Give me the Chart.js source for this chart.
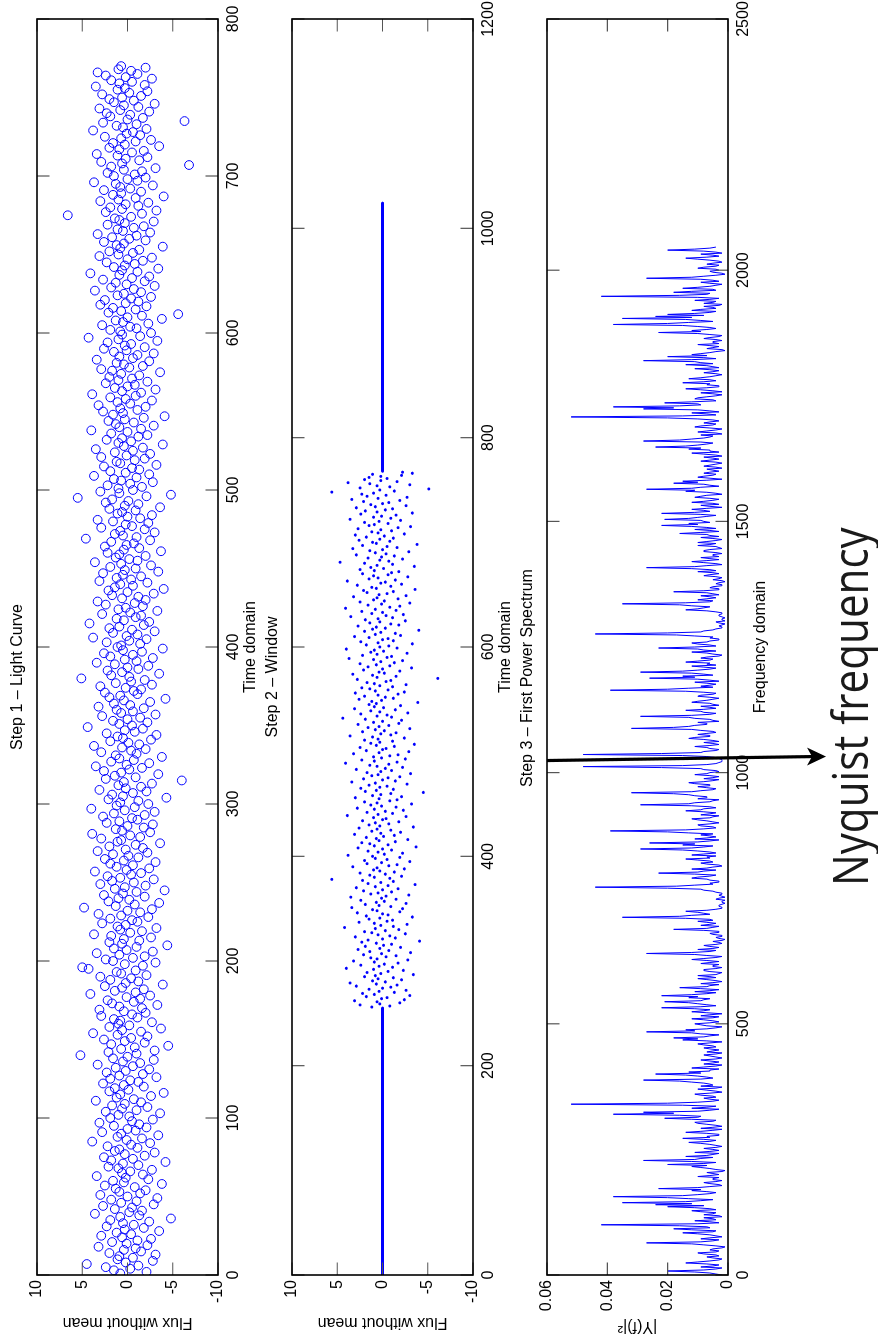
<!DOCTYPE html>
<html>
<head>
<meta charset="utf-8">
<script src="https://cdn.jsdelivr.net/npm/chart.js@4.4.1/dist/chart.umd.min.js"></script>
<style>
html,body{margin:0;padding:0;background:#fff;overflow:hidden;}
body{width:878px;height:1341px;position:relative;}
/* figure is laid out as the original landscape plot, then turned a quarter left */
#fig{position:absolute;left:0;top:0;width:1341px;height:878px;transform-origin:0 0;transform:translate(0,1341px) rotate(-90deg);}
#fig canvas{position:absolute;left:0;top:0;}
</style>
</head>
<body>
<div id="fig">
<canvas id="c1" width="1341" height="878"></canvas>
<canvas id="c2" width="1341" height="878"></canvas>
<canvas id="c3" width="1341" height="878"></canvas>
</div>
<script>
// step 1 - light curve, one value per time unit starting at t=1
var lightFlux = [
0.8,-2.1,1.5,-0.3,2.4,-1.2,4.5,0.2,-2.8,1.1,
-0.6,0.9,-3.1,2.0,-1.5,0.4,-0.9,3.2,-2.2,0.1,
1.7,-1.1,-2.6,0.6,2.9,-0.4,1.2,-3.5,0.3,-1.8,
2.3,-0.7,0.5,-2.4,1.9,-4.8,0.8,-1.3,3.6,-0.2,
-1.6,1.4,-0.5,2.7,-2.9,0.7,-1.0,1.8,-3.3,0.0,
3.0,-1.4,0.9,-2.0,1.3,-0.8,2.5,-3.8,0.4,1.6,
-2.3,0.2,3.4,-1.7,0.6,-0.3,-2.7,1.0,2.1,-1.2,
0.5,-4.2,1.8,-0.6,2.6,-1.9,0.3,-3.0,1.4,0.9,
-1.1,2.2,-0.4,-2.5,3.9,0.1,-1.6,1.1,-3.4,0.7,
2.8,-0.9,0.0,-2.1,1.5,-1.3,3.1,-0.5,-2.8,1.9,
-0.2,1.0,-3.6,2.4,-1.0,0.6,-2.2,1.7,0.3,-1.5,
3.5,-0.7,1.2,-2.6,0.8,-4.0,2.0,-0.1,1.4,-1.8,
0.4,2.7,-1.2,-0.3,1.9,-3.2,0.9,-1.7,2.3,0.2,
-2.4,1.3,-0.6,3.3,-1.4,0.5,-2.9,1.6,0.0,5.2,
-1.0,2.1,-3.0,0.7,-0.8,-4.5,1.8,-1.9,0.3,2.6,
-0.4,-2.2,1.1,3.8,-1.5,0.6,-3.7,2.0,-0.2,1.0,
-2.7,0.8,1.5,-1.1,2.9,-0.5,-2.0,0.4,3.1,-1.6,
0.9,-3.3,1.7,-0.7,2.2,-1.4,0.1,-2.5,4.1,-0.9,
1.4,-1.8,0.6,2.5,-3.9,0.2,-1.2,1.9,-0.4,3.0,
-2.1,0.7,1.2,-0.9,4.3,5.0,-1.7,0.3,-3.1,1.6,
2.4,-0.6,-1.9,0.9,3.4,-2.8,0.1,1.5,-1.0,-4.4,
0.6,2.0,-1.3,0.4,-2.6,1.8,3.7,-0.3,-1.6,0.8,
-3.2,1.1,0.2,2.8,-1.1,-0.5,1.9,-2.3,0.7,3.2,
-1.4,0.0,-2.7,4.8,1.3,-0.8,-3.5,2.1,-0.2,1.0,
-1.9,2.6,0.5,-1.0,-4.1,1.4,0.3,-2.0,3.0,-0.7,
1.7,-2.9,0.8,2.2,-0.4,-1.5,3.6,0.1,-2.4,1.2,
-0.6,1.9,-3.1,0.4,2.5,-1.2,-0.1,1.6,-2.2,3.3,
0.2,-1.7,2.0,-0.9,-3.6,1.1,0.7,2.9,-1.4,-0.3,
3.9,-2.5,0.6,1.3,-1.8,0.0,-2.8,2.3,0.9,-1.1,
-0.5,2.7,-1.9,1.5,-3.0,0.3,4.0,-0.8,1.2,-2.3,
0.8,-1.2,2.1,-4.3,0.5,1.7,-0.6,-2.1,3.1,0.2,
-1.5,1.0,-2.7,0.4,-6.0,2.4,-0.9,1.4,-3.4,0.7,
2.6,-0.2,-1.6,3.5,0.1,-2.4,1.8,-0.7,0.9,-3.8,
1.3,-1.0,2.9,-0.4,-2.0,0.6,3.7,-1.3,-0.1,1.9,
-2.6,0.5,1.1,-3.2,2.3,-0.8,0.3,-1.7,4.4,-0.5,
0.9,-2.2,1.6,0.0,-1.4,2.8,-3.1,0.7,-0.6,1.2,
-1.8,3.2,-0.3,1.5,-2.5,0.4,-4.2,2.0,0.8,-1.1,
2.5,-0.7,-1.5,0.2,3.0,-2.7,1.3,-0.4,-1.9,5.1,
-0.2,1.8,-3.5,0.6,2.2,-1.2,0.0,-2.3,1.4,3.4,
-1.0,0.3,-2.8,1.9,-0.6,2.6,-1.6,0.5,-3.9,1.1,
0.7,-1.4,2.3,-0.2,-2.1,3.8,0.1,-1.1,1.6,-3.0,
-0.5,2.0,0.9,-1.8,4.2,-2.4,0.4,1.2,-0.9,-1.5,
2.8,-0.3,-3.3,1.0,0.2,-1.7,2.4,-0.8,3.3,-2.0,
0.6,-1.2,1.7,-2.9,0.0,2.1,-4.0,1.4,-0.6,0.8,
-2.2,3.1,-0.4,1.2,-1.5,0.5,2.7,-3.4,0.3,-0.9,
1.9,-2.6,0.7,3.6,-1.1,-0.2,1.3,-2.0,0.9,2.2,
-3.7,0.4,-1.3,2.5,0.1,-0.7,1.8,-2.5,4.6,-1.0,
0.5,1.4,-3.0,0.8,-1.9,2.9,-0.5,0.2,-2.3,1.6,
3.3,-1.4,0.0,-2.7,1.1,0.6,-0.9,2.0,-3.6,0.3,
-1.2,2.4,-0.1,1.7,5.5,-2.1,-4.8,0.9,3.0,-0.6,
1.0,-1.6,2.2,-0.3,-2.8,0.7,1.5,-1.0,3.7,-2.4,
0.2,1.9,-1.3,-0.5,2.6,-3.2,0.8,1.2,-0.8,-1.9,
2.9,0.1,-2.5,1.4,-0.6,3.5,-1.7,0.4,-3.9,1.0,
-0.4,2.3,0.6,-1.2,-2.2,1.8,0.0,4.0,-1.5,0.9,
-2.9,1.3,-0.7,2.1,0.3,-1.8,-4.1,1.6,0.5,2.7,
-1.1,0.8,-2.0,3.2,-0.3,1.1,-2.7,0.2,1.9,-0.9,
3.9,-1.5,0.6,-3.1,1.4,0.0,-0.8,2.4,-2.2,1.0,
-0.5,2.0,-1.3,0.7,-3.6,1.7,2.9,-0.2,-1.7,0.4,
1.2,-2.4,3.4,-0.6,0.9,-1.1,-2.9,1.5,0.1,2.6,
-1.9,0.3,-0.4,2.2,-3.3,1.0,4.3,-1.4,0.6,-2.6,
0.8,1.9,-1.0,-0.3,2.8,-2.3,0.5,1.3,-3.8,0.0,
-1.6,-5.6,2.1,0.7,-0.9,1.6,-2.1,3.0,0.2,-1.2,
2.5,-0.4,-2.6,1.1,0.4,-1.5,3.6,-0.7,1.8,-3.0,
0.1,1.3,-1.9,2.7,-0.5,-2.4,0.9,4.1,-1.1,0.6,
-3.4,1.5,0.3,-0.8,2.3,-1.7,0.0,-2.7,3.1,1.0,
-0.6,2.0,-1.3,0.8,-3.9,1.2,0.4,2.6,-2.0,-0.2,
1.7,-1.0,3.3,-2.5,0.5,1.1,-0.7,-1.8,2.2,0.3,
-2.9,0.9,1.4,-0.4,6.6,-1.6,2.4,-3.2,0.6,1.9,
-1.2,0.2,-2.3,3.0,1.0,-0.9,-4.0,1.6,0.7,-1.5,
2.6,-0.3,0.8,-2.8,1.3,3.7,-1.1,0.0,-2.0,1.5,
-0.8,2.2,-1.6,0.4,-3.1,1.8,-6.8,0.6,2.9,-1.3,
0.2,-2.2,1.1,3.4,-0.5,-1.8,0.9,2.0,-3.5,0.3,
1.6,-0.9,-2.6,0.7,2.5,-1.4,0.1,-0.6,3.8,-2.1,
0.5,1.2,-1.0,2.7,-6.3,0.0,-1.7,1.9,-0.3,2.3,
-2.4,0.8,3.1,-1.2,0.4,-3.0,1.5,-0.7,2.0,0.6,
-1.5,2.8,-0.2,-2.2,1.1,0.3,3.5,-1.9,0.9,-0.5,
1.8,-2.7,0.2,2.4,-1.1,3.3,-0.4,1.0,-2.0,0.7
];

// step 2 - windowed series: zero padding either side, data from t=256 to t=767
var padLow = [0, 255];
var padHigh = [768, 1024];
var windowStart = 256;
var windowFlux = [
1.2,-0.8,2.5,0.3,-1.9,0.6,3.1,-2.4,0.1,-0.5,1.8,-3.0,0.9,2.2,-1.3,0.4,
-2.6,1.5,0.0,-0.9,2.9,-1.6,0.7,3.6,-0.3,1.1,-2.1,0.5,-1.2,2.0,0.8,-3.4,
0.2,1.7,-0.6,-2.3,1.0,4.0,-1.1,0.4,2.4,-0.2,-1.7,0.9,3.2,-2.8,0.6,1.3,
-0.4,-1.5,2.1,0.1,-3.1,1.4,-0.7,2.7,0.3,-2.0,1.9,-0.1,-1.0,0.7,2.3,-4.1,
1.6,0.0,-1.4,3.0,-0.8,0.5,-2.5,1.2,2.0,-0.3,-1.8,0.8,4.2,-1.2,0.2,-2.7,
0.9,2.6,-0.5,-1.1,1.5,0.3,-3.3,1.8,-0.6,0.0,2.8,-1.9,0.6,1.1,-2.2,3.4,
-0.9,0.4,1.9,-2.6,0.7,-0.2,2.4,-1.5,0.1,3.5,-0.4,-2.9,1.3,0.5,-1.0,2.1,
0.0,-1.7,2.9,0.8,-0.6,-3.6,1.6,0.2,-1.2,2.2,5.6,-0.8,0.9,-2.1,1.4,-0.3,
2.5,-1.3,0.3,1.0,-2.4,0.6,3.3,-0.7,-1.6,1.7,0.1,-3.0,2.0,-0.5,0.8,-1.9,
1.1,3.8,-0.2,-2.2,0.5,1.6,-1.0,0.0,2.7,-3.7,0.9,-0.6,1.4,2.3,-1.4,0.4,
-2.8,0.7,1.8,-0.1,-1.3,3.1,0.2,-2.0,1.2,-0.9,0.6,2.6,-3.4,0.3,1.5,-0.7,
0.8,-1.8,2.2,0.0,-0.4,1.0,-2.6,3.9,0.5,-1.1,1.7,-0.3,-2.3,0.9,2.8,-1.5,
0.1,1.3,-3.2,0.6,2.0,-0.8,-1.6,0.4,3.0,-2.1,1.1,0.2,-0.9,-4.5,1.9,0.7,
-1.2,2.4,0.3,-0.5,1.5,-2.7,0.8,3.4,-1.4,0.0,2.1,-0.6,-1.9,1.2,0.5,-3.1,
1.7,0.2,-1.0,2.9,-0.3,-2.2,0.6,1.4,-0.7,4.1,-1.6,0.9,2.3,-2.5,0.1,1.0,
-0.8,-1.7,3.2,0.4,-2.9,1.8,0.0,-0.4,2.5,-1.3,0.7,-3.5,1.3,0.3,-1.1,2.0,
0.5,-2.4,1.1,3.6,-0.9,0.2,-1.5,2.2,-0.2,0.8,-3.0,1.6,0.4,-0.7,2.7,-1.8,
1.0,0.0,-2.1,1.9,4.4,-1.0,0.6,-0.5,2.4,-2.8,0.3,1.3,-1.4,3.1,-0.1,0.9,
-2.0,1.5,0.7,-3.9,1.2,0.1,2.6,-1.2,-0.3,2.0,0.5,-1.7,3.0,-2.4,0.8,-0.6,
1.4,2.3,-1.1,0.3,-2.6,0.9,1.7,-0.4,-0.9,2.8,-6.1,0.6,-1.5,1.1,3.3,-0.2,
0.4,-1.9,2.1,0.0,-3.2,1.6,-0.8,0.7,2.5,-1.3,0.2,-2.2,1.0,3.7,-0.5,-1.0,
2.2,0.6,-2.7,1.3,-0.1,0.9,4.0,-1.6,0.3,-0.7,1.8,-3.3,0.5,2.4,-1.2,0.0,
-0.6,1.5,3.1,-2.0,0.8,-1.4,0.2,2.0,-4.0,1.1,-0.3,0.7,2.7,-1.8,-0.9,1.4,
0.3,-2.5,1.9,0.5,-1.1,3.5,-0.4,-2.3,1.2,0.0,2.3,-1.5,0.8,4.1,-0.8,-1.9,
1.6,0.1,-3.0,2.5,-0.2,1.0,-1.7,0.6,3.2,-2.6,0.4,-0.5,1.7,-1.2,2.1,-3.6,
0.7,1.2,-0.9,2.8,-2.1,0.2,-0.3,3.9,-1.4,1.5,0.5,-2.8,1.0,-0.6,2.2,-1.0,
-1.8,0.9,2.5,-0.1,1.3,-3.5,0.6,-1.1,2.0,4.7,-0.7,0.3,-2.2,1.6,0.1,-1.3,
2.9,-0.4,0.8,-2.9,1.4,0.0,3.3,-1.6,-0.5,2.2,-3.8,0.7,1.1,-0.8,2.6,0.3,
-1.2,1.8,-0.2,3.0,-2.4,0.5,1.2,-1.0,0.2,2.7,-1.7,-3.1,1.5,0.9,-0.6,2.0,
0.4,-2.0,3.6,-0.9,1.0,0.1,-1.5,2.4,-3.3,0.6,1.9,-0.3,-1.1,2.9,0.8,-2.6,
1.3,0.0,-0.7,2.1,-1.9,3.4,0.5,-2.7,1.7,-0.4,2.3,1.0,5.6,-1.3,0.3,-5.1,
2.5,-0.8,0.6,-3.0,1.4,3.8,-1.6,0.2,2.0,-0.5,1.5,0.2,-2.1,1.1,-3.3,-2.2
];

// step 3 - power spectrum, read every 2 frequency units from 0 up to the Nyquist
// frequency; the upper half of the picture is the mirror image of this half
var specStep = 2;
var nyquistFreq = 1024;
var specHalf = [
0.002,0.004,0.006,0.011,0.020,0.008,0.004,0.002,0.009,0.005,0.003,0.007,0.014,0.010,0.006,0.003,
0.002,0.005,0.007,0.003,0.004,0.008,0.010,0.004,0.003,0.006,0.005,0.002,0.001,0.004,0.008,0.012,
0.027,0.009,0.005,0.003,0.009,0.006,0.002,0.004,0.006,0.010,0.015,0.005,0.004,0.012,0.018,0.006,
0.007,0.016,0.042,0.010,0.003,0.006,0.011,0.004,0.005,0.008,0.002,0.003,0.008,0.005,0.004,0.009,
0.012,0.004,0.006,0.011,0.020,0.008,0.024,0.012,0.035,0.014,0.009,0.005,0.013,0.020,0.038,0.015,
0.010,0.006,0.004,0.007,0.012,0.009,0.023,0.010,0.006,0.002,0.003,0.006,0.008,0.004,0.002,0.005,
0.005,0.003,0.010,0.006,0.003,0.005,0.007,0.002,0.001,0.004,0.006,0.009,0.012,0.007,0.020,0.008,
0.004,0.012,0.028,0.011,0.009,0.005,0.014,0.007,0.005,0.003,0.011,0.006,0.003,0.005,0.008,0.004,
0.002,0.004,0.006,0.009,0.013,0.006,0.004,0.008,0.015,0.006,0.007,0.003,0.003,0.007,0.014,0.009,
0.005,0.002,0.009,0.005,0.002,0.004,0.007,0.010,0.011,0.005,0.004,0.012,0.021,0.010,0.009,0.016,
0.038,0.018,0.028,0.010,0.006,0.003,0.012,0.007,0.004,0.015,0.052,0.020,0.010,0.005,0.003,0.006,
0.008,0.004,0.005,0.009,0.011,0.006,0.002,0.004,0.007,0.010,0.004,0.002,0.009,0.005,0.006,0.008,
0.012,0.016,0.028,0.009,0.005,0.007,0.010,0.014,0.024,0.009,0.013,0.006,0.006,0.003,0.012,0.008,
0.004,0.002,0.008,0.005,0.003,0.006,0.009,0.004,0.002,0.004,0.006,0.008,0.004,0.002,0.007,0.005,
0.003,0.006,0.008,0.004,0.005,0.008,0.010,0.006,0.002,0.007,0.015,0.010,0.018,0.008,0.006,0.003,
0.009,0.012,0.027,0.011,0.014,0.007,0.004,0.002,0.007,0.009,0.011,0.006,0.003,0.005,0.008,0.012,
0.005,0.003,0.009,0.006,0.002,0.007,0.012,0.008,0.006,0.011,0.022,0.009,0.004,0.007,0.010,0.013,
0.021,0.009,0.008,0.006,0.013,0.010,0.022,0.012,0.007,0.004,0.011,0.006,0.003,0.009,0.016,0.007,
0.006,0.003,0.009,0.005,0.002,0.004,0.007,0.010,0.004,0.006,0.010,0.004,0.003,0.002,0.006,0.008,
0.008,0.004,0.002,0.005,0.005,0.003,0.009,0.006,0.003,0.007,0.012,0.008,0.004,0.002,0.007,0.011,
0.027,0.012,0.006,0.004,0.010,0.005,0.003,0.006,0.008,0.004,0.002,0.003,0.005,0.002,0.001,0.003,
0.004,0.002,0.002,0.005,0.006,0.003,0.003,0.008,0.018,0.007,0.005,0.003,0.009,0.006,0.004,0.007,
0.010,0.005,0.006,0.014,0.035,0.016,0.012,0.006,0.008,0.010,0.014,0.007,0.004,0.002,0.002,0.003,
0.003,0.002,0.001,0.002,0.002,0.001,0.004,0.003,0.001,0.002,0.003,0.002,0.002,0.004,0.005,0.008,
0.009,0.020,0.044,0.017,0.011,0.005,0.006,0.003,0.003,0.006,0.007,0.012,0.010,0.006,0.004,0.011,
0.023,0.010,0.008,0.004,0.012,0.007,0.005,0.002,0.003,0.007,0.009,0.005,0.006,0.010,0.014,0.006,
0.007,0.004,0.012,0.008,0.004,0.006,0.010,0.015,0.029,0.012,0.008,0.005,0.015,0.011,0.026,0.010,
0.006,0.003,0.011,0.007,0.004,0.006,0.009,0.005,0.013,0.020,0.039,0.014,0.008,0.004,0.005,0.009,
0.010,0.006,0.003,0.005,0.007,0.010,0.012,0.006,0.005,0.003,0.009,0.006,0.004,0.008,0.014,0.009,
0.008,0.004,0.006,0.012,0.029,0.013,0.011,0.006,0.005,0.003,0.010,0.007,0.007,0.011,0.013,0.018,
0.032,0.012,0.009,0.005,0.004,0.007,0.010,0.006,0.006,0.011,0.013,0.008,0.005,0.003,0.008,0.005,
0.003,0.006,0.011,0.007,0.006,0.003,0.004,0.008,0.009,0.022,0.048,0.015,0.007,0.004,0.003,0.002,
0.002
];

var plotLeft = 66, plotRight = 1322;   // original (unrotated) layout
var figH = 878;
var xAxisH = 46;
var tickLen = 12.5;
var blue = '#0000ff';

Chart.defaults.font.family = '"Liberation Sans", Arial, Helvetica, sans-serif';
Chart.defaults.font.size = 16;
Chart.defaults.color = '#000';

var framePlugin = {
  id: 'frame',
  afterDraw: function(chart) {
    var ctx = chart.ctx, a = chart.chartArea, sx = chart.scales.x, sy = chart.scales.y;
    ctx.save();
    ctx.strokeStyle = '#555';
    ctx.lineWidth = 1.2;
    ctx.beginPath();
    sx.ticks.forEach(function(t) {
      var px = sx.getPixelForValue(t.value);
      ctx.moveTo(px, a.bottom); ctx.lineTo(px, a.bottom - tickLen);
      ctx.moveTo(px, a.top); ctx.lineTo(px, a.top + tickLen);
    });
    sy.ticks.forEach(function(t) {
      var py = sy.getPixelForValue(t.value);
      ctx.moveTo(a.left, py); ctx.lineTo(a.left + tickLen, py);
      ctx.moveTo(a.right, py); ctx.lineTo(a.right - tickLen, py);
    });
    ctx.stroke();
    ctx.strokeStyle = '#000';
    ctx.lineWidth = 1.6;
    ctx.strokeRect(a.left, a.top, a.right - a.left, a.bottom - a.top);
    ctx.restore();
  }
};

var nyquistPlugin = {
  id: 'nyquist',
  afterDraw: function(chart) {
    var ctx = chart.ctx;
    var x0 = chart.scales.x.getPixelForValue(nyquistFreq);
    var y0 = chart.chartArea.top;
    var x1 = x0 + 4, y1 = 826;
    ctx.save();
    ctx.strokeStyle = '#000';
    ctx.fillStyle = '#000';
    ctx.lineWidth = 3.2;
    ctx.beginPath();
    ctx.moveTo(x0, y0);
    ctx.lineTo(x1, y1 - 12);
    ctx.stroke();
    ctx.beginPath();
    ctx.moveTo(x1, y1);
    ctx.lineTo(x1 - 9, y1 - 19);
    ctx.lineTo(x1, y1 - 14);
    ctx.lineTo(x1 + 9, y1 - 19);
    ctx.closePath();
    ctx.fill();
    // big label under the arrow, narrowed to the width of the original typeface
    ctx.fillStyle = '#1a1a1a';
    ctx.font = '50px "Open Sans", "Noto Sans", sans-serif';
    ctx.textAlign = 'left';
    ctx.textBaseline = 'alphabetic';
    ctx.translate(455, 868);
    ctx.scale(0.843, 1);
    ctx.fillText('Nyquist frequency', 0, 0);
    ctx.restore();
  }
};

function plainNum(v) { return String(+(+v).toFixed(4)); }

function panelOptions(p) {
  return {
    responsive: false,
    animation: false,
    devicePixelRatio: 1,
    layout: { padding: { left: plotLeft - p.yAxisW, right: 1341 - plotRight, top: p.top - 29.1, bottom: figH - p.bottom - xAxisH } },
    plugins: {
      legend: { display: false },
      tooltip: { enabled: false },
      title: { display: true, text: p.title, color: '#000', font: { size: 16, weight: 'normal' }, padding: { top: 0, bottom: 9.9 } }
    },
    scales: {
      x: {
        type: 'linear', position: 'bottom', min: p.xMin, max: p.xMax,
        afterFit: function(s) { s.height = xAxisH; s.paddingLeft = 0; s.paddingRight = 0; },
        ticks: { stepSize: p.xStep, padding: 6, maxRotation: 0, autoSkip: false, callback: plainNum },
        grid: { display: false, drawTicks: false },
        border: { display: false },
        title: { display: true, text: p.xLabel, font: { size: 16 }, padding: { top: 0, bottom: 3.4 } }
      },
      y: {
        type: 'linear', position: 'left', min: p.yMin, max: p.yMax,
        afterFit: function(s) { s.width = p.yAxisW; s.paddingTop = 0; s.paddingBottom = 0; },
        ticks: { stepSize: p.yStep, padding: 5, autoSkip: false, callback: plainNum },
        grid: { display: false, drawTicks: false },
        border: { display: false },
        title: { display: true, text: p.yLabel, font: { size: 16 }, padding: { top: p.yTitlePad, bottom: 0 } }
      }
    }
  };
}

// panel 1
new Chart(document.getElementById('c1'), {
  type: 'scatter',
  data: { datasets: [{
    data: lightFlux.map(function(v, i) { return { x: i + 1, y: v }; }),
    pointStyle: 'circle', pointRadius: 4.4, pointBorderWidth: 1,
    borderColor: blue, backgroundColor: 'rgba(0,0,0,0)'
  }] },
  options: panelOptions({ top: 37, bottom: 218, yAxisW: 60, yTitlePad: 3.4, title: 'Step 1 \u2013 Light Curve',
    xMin: 0, xMax: 800, xStep: 100, xLabel: 'Time domain', yMin: -10, yMax: 10, yStep: 5, yLabel: 'Flux without mean' }),
  plugins: [framePlugin]
});

// panel 2
new Chart(document.getElementById('c2'), {
  type: 'scatter',
  data: { datasets: [
    { data: padLow.map(function(t) { return { x: t, y: 0 }; }), showLine: true, borderColor: blue, borderWidth: 3, borderCapStyle: 'round', pointRadius: 0 },
    { data: padHigh.map(function(t) { return { x: t, y: 0 }; }), showLine: true, borderColor: blue, borderWidth: 3, borderCapStyle: 'round', pointRadius: 0 },
    { data: windowFlux.map(function(v, i) { return { x: windowStart + i, y: v }; }),
      pointRadius: 1.5, pointBorderWidth: 0, backgroundColor: blue, borderColor: blue }
  ] },
  options: panelOptions({ top: 292, bottom: 473, yAxisW: 60, yTitlePad: 3.4, title: 'Step 2 \u2013 Window',
    xMin: 0, xMax: 1200, xStep: 200, xLabel: 'Time domain', yMin: -10, yMax: 10, yStep: 5, yLabel: 'Flux without mean' }),
  plugins: [framePlugin]
});

// panel 3
var specPower = specHalf.concat(specHalf.slice(1, -1).reverse());
new Chart(document.getElementById('c3'), {
  type: 'scatter',
  data: { datasets: [{
    data: specPower.map(function(v, i) { return { x: i * specStep, y: v }; }),
    showLine: true, borderColor: blue, borderWidth: 1, pointRadius: 0, tension: 0
  }] },
  options: panelOptions({ top: 547, bottom: 728, yAxisW: 62, yTitlePad: 0.5, title: 'Step 3 \u2013 First Power Spectrum',
    xMin: 0, xMax: 2500, xStep: 500, xLabel: 'Frequency domain', yMin: 0, yMax: 0.06, yStep: 0.02, yLabel: '|Y(f)|\u00b2' }),
  plugins: [framePlugin, nyquistPlugin]
});
</script>
</body>
</html>
